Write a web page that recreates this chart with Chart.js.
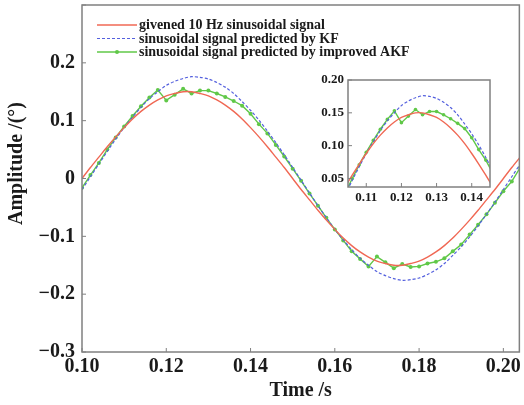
<!DOCTYPE html>
<html>
<head>
<meta charset="utf-8">
<script src="https://cdn.jsdelivr.net/npm/chart.js@4.4.0/dist/chart.umd.min.js"></script>
<style>
  html, body { margin: 0; padding: 0; background: #fff; }
  #wrap { position: relative; width: 524px; height: 405px; }
  #mainChart { position: absolute; left: 0; top: 0; }
  #insetChart { position: absolute; left: 300px; top: 70px; }
</style>
</head>
<body>
<div id="wrap">
  <canvas id="mainChart" width="524" height="405"></canvas>
  <canvas id="insetChart" width="200" height="140"></canvas>
</div>
<script>
// tiempo (s), muestras cada 0.002 s
const timeS = [
  0.100, 0.102, 0.104, 0.106, 0.108, 0.110, 0.112, 0.114, 0.116, 0.118,
  0.120, 0.122, 0.124, 0.126, 0.128, 0.130, 0.132, 0.134, 0.136, 0.138,
  0.140, 0.142, 0.144, 0.146, 0.148, 0.150, 0.152, 0.154, 0.156, 0.158,
  0.160, 0.162, 0.164, 0.166, 0.168, 0.170, 0.172, 0.174, 0.176, 0.178,
  0.180, 0.182, 0.184, 0.186, 0.188, 0.190, 0.192, 0.194, 0.196, 0.198,
  0.200, 0.202, 0.204
];

const givenSignal = [
  0, 0.019, 0.037, 0.055, 0.072, 0.088, 0.103, 0.116, 0.127, 0.136,
  0.143, 0.147, 0.150, 0.150, 0.147, 0.143, 0.136, 0.127, 0.116, 0.103,
  0.088, 0.072, 0.055, 0.037, 0.019, 0, -0.019, -0.037, -0.055, -0.072,
  -0.088, -0.103, -0.116, -0.127, -0.136, -0.143, -0.147, -0.150, -0.150, -0.147,
  -0.143, -0.136, -0.127, -0.116, -0.103, -0.088, -0.072, -0.055, -0.037, -0.019,
  0, 0.019, 0.037
];

const kfSignal = [
  -0.019, 0.003, 0.025, 0.047, 0.068, 0.088, 0.106, 0.123, 0.138, 0.150,
  0.161, 0.168, 0.173, 0.176, 0.175, 0.172, 0.166, 0.158, 0.147, 0.133,
  0.118, 0.101, 0.082, 0.062, 0.041, 0.019, -0.003, -0.025, -0.047, -0.068,
  -0.088, -0.106, -0.123, -0.138, -0.150, -0.161, -0.168, -0.173, -0.176, -0.175,
  -0.172, -0.166, -0.158, -0.147, -0.133, -0.118, -0.101, -0.082, -0.062, -0.041,
  -0.019, 0.003, 0.025
];

const akfSignal = [
  -0.016, 0.006, 0.027, 0.050, 0.071, 0.090, 0.108, 0.125, 0.140, 0.153,
  0.135, 0.145, 0.155, 0.147, 0.152, 0.152, 0.147, 0.141, 0.134, 0.126,
  0.112, 0.094, 0.078, 0.058, 0.038, 0.017, -0.004, -0.026, -0.047, -0.068,
  -0.088, -0.107, -0.126, -0.139, -0.152, -0.135, -0.145, -0.155, -0.148, -0.153,
  -0.152, -0.147, -0.144, -0.138, -0.126, -0.114, -0.097, -0.080, -0.062, -0.042,
  -0.022, -0.005, 0.019
];

const seriesLabels = [
  "givened 10 Hz sinusoidal signal",
  "sinusoidal signal predicted by KF",
  "sinusoidal signal predicted by improved AKF"
];

// [min, max, paso]
const mainXTicks = [0.10, 0.2038, 0.02];
const mainYTicks = [-0.3, 0.3, 0.1];
const insetXTicks = [0.1048, 0.1452, 0.01];
const insetYTicks = [0.037, 0.20, 0.05];

const FONT = "'Liberation Serif', 'Times New Roman', serif";
const TEXT = "#1a1a1a";

function toPoints(values) {
  return timeS.map((t, i) => ({ x: t, y: values[i] }));
}

function makeDatasets(dot) {
  return [{
    label: seriesLabels[0],
    data: toPoints(givenSignal),
    borderColor: "rgb(240,104,84)",
    borderWidth: 1.4,
    pointRadius: 0,
    tension: 0.3
  }, {
    label: seriesLabels[1],
    data: toPoints(kfSignal),
    borderColor: "rgb(84,96,222)",
    borderWidth: 1.2,
    borderDash: [3, 2],
    pointRadius: 0,
    tension: 0.3
  }, {
    label: seriesLabels[2],
    data: toPoints(akfSignal),
    borderColor: "rgb(96,200,72)",
    backgroundColor: "rgb(96,200,72)",
    borderWidth: 1.4,
    pointRadius: dot,
    pointBorderWidth: 0,
    pointBackgroundColor: "rgb(96,200,72)"
  }];
}

function minus(s) {
  return s.replace("-", "\u2212");
}

// sin relleno extra arriba/abajo para que el área quede donde toca
function noPad(s) {
  s.paddingTop = 0;
  s.paddingBottom = 0;
}

// marco gris y marcas hacia dentro
const framePlugin = {
  id: "frame",
  beforeDraw(chart) {
    const a = chart.chartArea, ctx = chart.ctx;
    ctx.save();
    ctx.fillStyle = "#fff";
    ctx.fillRect(a.left, a.top, a.right - a.left, a.bottom - a.top);
    ctx.restore();
  },
  afterDraw(chart) {
    const a = chart.chartArea, ctx = chart.ctx;
    const xs = chart.scales.x, ys = chart.scales.y;
    ctx.save();
    ctx.strokeStyle = "#808080";
    ctx.lineWidth = 1;
    ctx.beginPath();
    xs.ticks.forEach(t => {
      const px = xs.getPixelForValue(t.value);
      ctx.moveTo(px, a.bottom);
      ctx.lineTo(px, a.bottom - 4);
    });
    ys.ticks.forEach(t => {
      const py = ys.getPixelForValue(t.value);
      ctx.moveTo(a.left, py);
      ctx.lineTo(a.left + 4, py);
    });
    ctx.stroke();
    ctx.lineWidth = 1.5;
    ctx.strokeRect(a.left, a.top, a.right - a.left, a.bottom - a.top);
    ctx.restore();
  }
};

const legendPlugin = {
  id: "insideLegend",
  afterDraw(chart) {
    const ctx = chart.ctx, a = chart.chartArea;
    ctx.save();
    ctx.font = "bold 14px " + FONT;
    ctx.textBaseline = "middle";
    chart.data.datasets.forEach((ds, i) => {
      const y = a.top + 20 + i * 13.5;
      const x0 = a.left + 15, x1 = a.left + 55;
      ctx.strokeStyle = ds.borderColor;
      ctx.lineWidth = ds.borderWidth;
      ctx.setLineDash(ds.borderDash || []);
      ctx.beginPath();
      ctx.moveTo(x0, y);
      ctx.lineTo(x1, y);
      ctx.stroke();
      ctx.setLineDash([]);
      if (ds.pointRadius > 0) {
        ctx.fillStyle = ds.pointBackgroundColor;
        ctx.beginPath();
        ctx.arc((x0 + x1) / 2, y, ds.pointRadius, 0, Math.PI * 2);
        ctx.fill();
      }
      ctx.fillStyle = TEXT;
      ctx.fillText(ds.label, x1 + 2, y + 0.5);
    });
    ctx.restore();
  }
};

new Chart(document.getElementById("mainChart"), {
  type: "line",
  data: { datasets: makeDatasets(2) },
  options: {
    responsive: false,
    animation: false,
    layout: { padding: { left: 0, top: 5, right: 3, bottom: 0 } },
    plugins: { legend: { display: false }, tooltip: { enabled: false } },
    scales: {
      x: {
        type: "linear",
        min: mainXTicks[0],
        max: mainXTicks[1],
        grid: { display: false, drawTicks: false },
        border: { display: false },
        afterFit: s => { s.height = 53; },
        ticks: {
          stepSize: mainXTicks[2],
          includeBounds: false,
          autoSkip: false,
          maxRotation: 0,
          padding: 3,
          color: TEXT,
          font: { family: FONT, size: 20, weight: "bold" },
          callback: v => v.toFixed(2)
        },
        title: {
          display: true,
          text: "Time /s",
          color: TEXT,
          font: { family: FONT, size: 20, weight: "bold" },
          padding: { top: 0, bottom: 2 }
        }
      },
      y: {
        min: mainYTicks[0],
        max: mainYTicks[1],
        grid: { display: false, drawTicks: false },
        border: { display: false },
        afterFit: s => { s.width = 82; noPad(s); },
        ticks: {
          stepSize: mainYTicks[2],
          autoSkip: false,
          padding: 7,
          color: TEXT,
          font: { family: FONT, size: 20, weight: "bold" },
          callback: v => {
            if (Math.abs(v - mainYTicks[1]) < 1e-9) return "";
            if (Math.abs(v) < 1e-9) return "0";
            return minus(v.toFixed(1));
          }
        },
        title: {
          display: true,
          text: "      Amplitude /(\u00b0)",
          color: TEXT,
          font: { family: FONT, size: 20, weight: "bold" },
          padding: { top: 5, bottom: 0 }
        }
      }
    }
  },
  plugins: [framePlugin, legendPlugin]
});

new Chart(document.getElementById("insetChart"), {
  type: "line",
  data: { datasets: makeDatasets(1.8) },
  options: {
    responsive: false,
    animation: false,
    layout: { padding: { left: 0, top: 10, right: 10, bottom: 0 } },
    plugins: { legend: { display: false }, tooltip: { enabled: false } },
    scales: {
      x: {
        type: "linear",
        min: insetXTicks[0],
        max: insetXTicks[1],
        grid: { display: false, drawTicks: false },
        border: { display: false },
        afterFit: s => { s.height = 23; },
        ticks: {
          stepSize: insetXTicks[2],
          includeBounds: false,
          autoSkip: false,
          maxRotation: 0,
          padding: 3,
          color: TEXT,
          font: { family: FONT, size: 13, weight: "bold" },
          callback: v => v.toFixed(2)
        }
      },
      y: {
        min: insetYTicks[0],
        max: insetYTicks[1],
        grid: { display: false, drawTicks: false },
        border: { display: false },
        afterFit: s => { s.width = 48; noPad(s); },
        ticks: {
          stepSize: insetYTicks[2],
          includeBounds: false,
          autoSkip: false,
          padding: 4,
          color: TEXT,
          font: { family: FONT, size: 13, weight: "bold" },
          callback: v => v.toFixed(2)
        }
      }
    }
  },
  plugins: [framePlugin]
});
</script>
</body>
</html>
